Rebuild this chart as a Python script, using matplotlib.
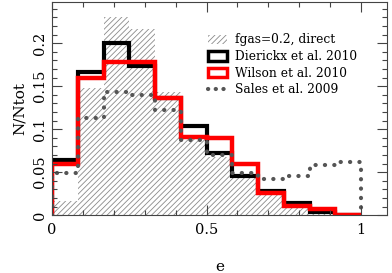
import numpy as np
import matplotlib
matplotlib.use('Agg')
import matplotlib.pyplot as plt
from matplotlib.patches import Patch
from matplotlib.lines import Line2D

# bins of width 1/12 in eccentricity
edges = np.linspace(0, 1, 13)

fgas_direct = [0.017, 0.148, 0.231, 0.217, 0.143, 0.088, 0.068, 0.046, 0.028, 0.012, 0.004, 0.0]
dierickx = [0.064, 0.166, 0.200, 0.174, 0.136, 0.104, 0.072, 0.046, 0.028, 0.014, 0.004, 0.0]
wilson = [0.060, 0.160, 0.178, 0.178, 0.136, 0.091, 0.090, 0.060, 0.026, 0.011, 0.007, 0.0]
sales = [0.049, 0.113, 0.143, 0.140, 0.122, 0.087, 0.070, 0.049, 0.042, 0.046, 0.058, 0.062]

labels = ['fgas=0.2, direct', 'Dierickx et al. 2010', 'Wilson et al. 2010', 'Sales et al. 2009']

plt.rcParams['font.family'] = 'DejaVu Serif'
plt.rcParams['hatch.linewidth'] = 0.6
plt.rcParams['hatch.color'] = '#8a8a8a'

fig = plt.figure(figsize=(3.92, 2.73), dpi=100)
ax = fig.add_axes([0.133, 0.212, 0.855, 0.781])

ax.stairs(fgas_direct, edges, fill=True, facecolor='none', edgecolor='#8a8a8a',
          hatch='//////', linewidth=0)
ax.stairs(dierickx, edges, color='black', linewidth=3)
ax.stairs(wilson, edges, color='red', linewidth=3.2)
dots = (0, (0.05, 2.2))
st = ax.stairs(sales, edges, color='#555555', linewidth=3, linestyle=dots)
st.set_capstyle('round')

ax.set_xlim(0, 1.085)
ax.set_ylim(0, 0.248)
ax.set_xticks([0, 0.5, 1])
ax.set_xticklabels(['0', '0.5', '1'])
ax.set_xticks(np.arange(0, 1.01, 0.1), minor=True)
ax.set_yticks([0, 0.05, 0.1, 0.15, 0.2])
ax.set_yticklabels(['0', '0.05', '0.1', '0.15', '0.2'], rotation=90, va='center')
ax.set_yticks(np.arange(0, 0.245, 0.01), minor=True)
ax.tick_params(which='both', direction='in', top=True, right=True, labelsize=10.5,
               color='#444444')
ax.tick_params(which='major', length=7, width=0.8)
ax.tick_params(which='minor', length=3.5, width=0.8)
ax.tick_params(axis='x', pad=6)
ax.tick_params(axis='y', pad=4)
for s in ax.spines.values():
    s.set_linewidth(0.8)
    s.set_color('#444444')

ax.set_xlabel('e', fontsize=11, labelpad=16)
ax.set_ylabel('N/Ntot', fontsize=11, labelpad=4)

handles = [
    Patch(facecolor='none', edgecolor='#8a8a8a', hatch='//////', linewidth=0),
    Patch(facecolor='none', edgecolor='black', linewidth=2.5),
    Patch(facecolor='none', edgecolor='red', linewidth=2.5),
    Line2D([0], [0], color='#555555', linestyle=(0, (0.05, 1.8)), linewidth=3,
           dash_capstyle='round'),
]
ax.legend(handles, labels, loc='upper left', bbox_to_anchor=(0.45, 0.875),
          frameon=False, fontsize=8.8, handlelength=1.6, handleheight=0.8,
          handletextpad=0.6, labelspacing=0.3, borderaxespad=0)

fig.savefig('out.png', dpi=100)
